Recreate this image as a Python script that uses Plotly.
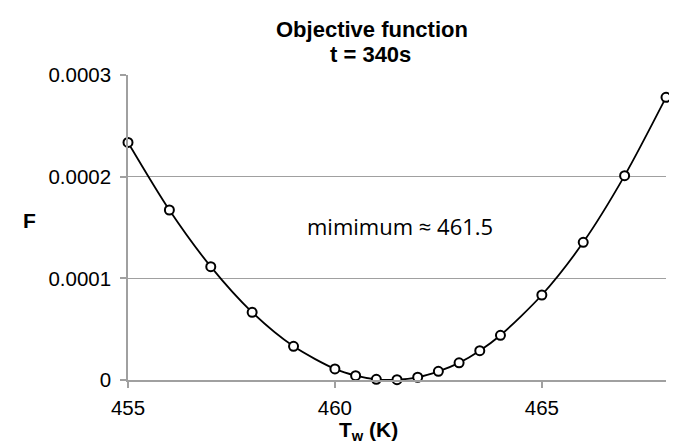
import plotly.graph_objects as go

# Data
tw_values = [455, 456, 457, 458, 459, 460, 460.5, 461, 461.5, 462, 462.5, 463, 463.5, 464, 465, 466, 467, 468]
f_values = [2.337e-4, 1.672e-4, 1.115e-4, 0.666e-4, 0.331e-4, 0.109e-4, 0.043e-4, 0.007e-4, 0.003e-4,
            0.027e-4, 0.085e-4, 0.169e-4, 0.288e-4, 0.44e-4, 0.836e-4, 1.354e-4, 2.01e-4, 2.78e-4]

x_tick_vals = [455, 460, 465]
y_tick_vals = [0, 0.0001, 0.0002, 0.0003]
y_tick_text = ["0", "0.0001", "0.0002", "0.0003"]

title_line1 = "<b>Objective function</b>"
title_line2 = "<b>t = 340s</b>"
x_title = "<b>T<sub>w</sub> (K)</b>"
y_title = "<b>F</b>"
annotation_text = "mimimum ≈ 461.5"

W, H = 677, 445
L, R, T, B = 120, 19, 67, 73
plot_w = W - L - R
plot_h = H - T - B


def px_x(px):
    return (px - L) / plot_w


def px_y(py):
    return (H - B - py) / plot_h


fig = go.Figure()
fig.add_trace(go.Scatter(
    x=tw_values, y=f_values, mode="lines+markers",
    line=dict(color="black", width=1.8, shape="spline", smoothing=0.8),
    marker=dict(size=9, color="white", line=dict(color="black", width=2)),
    cliponaxis=False, showlegend=False,
))

arial = "Liberation Sans, Arial, sans-serif"

# annotation in the plot
fig.add_annotation(
    x=px_x(392), y=px_y(218), xref="paper", yref="paper", text=annotation_text, showarrow=False,
    xanchor="center", yanchor="middle",
    font=dict(family="Open Sans, Noto Sans, sans-serif", size=22, color="black"),
)
# title (two lines)
fig.add_annotation(
    x=px_x(364), y=px_y(21), xref="paper", yref="paper", text=title_line1, showarrow=False,
    xanchor="center", yanchor="middle",
    font=dict(family=arial, size=22, color="black"),
)
fig.add_annotation(
    x=px_x(362), y=px_y(47), xref="paper", yref="paper", text=title_line2, showarrow=False,
    xanchor="center", yanchor="middle",
    font=dict(family=arial, size=22, color="black"),
)
# x axis title
fig.add_annotation(
    x=px_x(360), y=px_y(408), xref="paper", yref="paper", text=x_title, showarrow=False,
    xanchor="center", yanchor="top",
    font=dict(family=arial, size=21, color="black"),
)
# y axis title
fig.add_annotation(
    x=px_x(21), y=px_y(212), xref="paper", yref="paper", text=y_title, showarrow=False,
    xanchor="center", yanchor="middle",
    font=dict(family=arial, size=21, color="black"),
)

axis_font = dict(family=arial, size=20.5, color="black")

fig.update_layout(
    width=W, height=H,
    margin=dict(l=L, r=R, t=T, b=B),
    paper_bgcolor="white", plot_bgcolor="white",
    xaxis=dict(
        range=[455, 468], tickvals=x_tick_vals, showgrid=False, zeroline=False,
        showline=True, linecolor="#a0a0a0", linewidth=1.5,
        ticks="outside", ticklen=6, tickcolor="#a0a0a0", tickwidth=1.5,
        tickfont=axis_font, ticklabelstandoff=3,
    ),
    yaxis=dict(
        range=[0, 0.0003], tickvals=y_tick_vals, ticktext=y_tick_text,
        showgrid=True, gridcolor="#a0a0a0", gridwidth=1.2, zeroline=False,
        showline=True, linecolor="#a0a0a0", linewidth=1.5,
        ticks="outside", ticklen=6, tickcolor="#a0a0a0", tickwidth=1.5,
        tickfont=axis_font, ticklabelstandoff=5,
    ),
)

fig.write_html("out.html")
